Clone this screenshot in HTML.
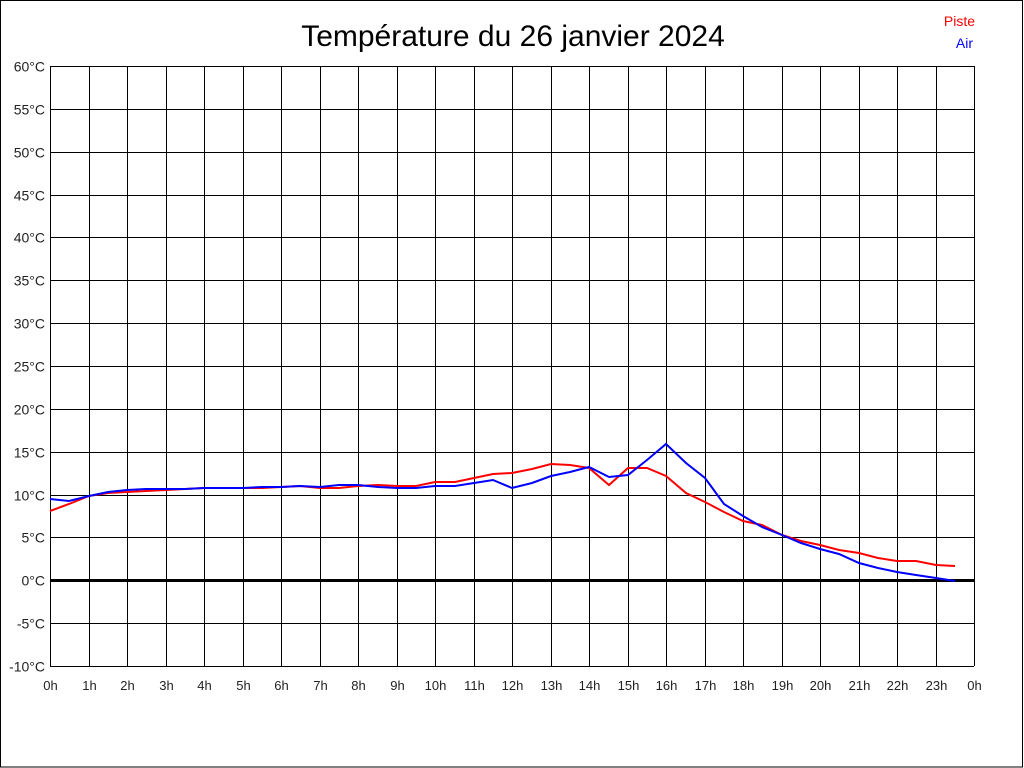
<!DOCTYPE html>
<html><head><meta charset="utf-8"><style>body{margin:0;background:#fff}svg{display:block}</style></head><body>
<svg width="1024" height="768" xmlns="http://www.w3.org/2000/svg" font-family="Liberation Sans, sans-serif">
<rect x="0.5" y="0.5" width="1022" height="766.5" fill="#fff" stroke="#000"/>
<text x="513" y="46" font-size="30" text-anchor="middle">Température du 26 janvier 2024</text>
<text x="975" y="26" font-size="14" fill="#f00" text-anchor="end">Piste</text>
<text x="973" y="48" font-size="14" fill="#00f" text-anchor="end">Air</text>
<g stroke="#000" stroke-width="1" shape-rendering="crispEdges" id="g"></g>
<g fill="#222" id="l"></g>
<polyline fill="none" stroke="#f00" stroke-width="2" points="50,511 69,504 89,496 108,493 127,492 146,491 166,490 185,489 204,488 223,488 243,488 262,488 281,487 300,486 320,488 339,488 358,486 378,485 397,486 416,486 435,482 455,482 474,478 493,474 512,473 532,469 551,464 570,465 589,468 609,485 628,468 647,468 666,476 686,493 705,502 724,512 743,521 762,525 782,535 801,541 820,545 839,550 859,553 878,558 897,561 916,561 936,565 955,566"/>
<polyline fill="none" stroke="#00f" stroke-width="2" points="50,499 69,501 89,496 108,492 127,490 146,489 166,489 185,489 204,488 223,488 243,488 262,487 281,487 300,486 320,487 339,485 358,485 378,487 397,488 416,488 435,486 455,486 474,483 493,480 512,488 532,483 551,476 570,472 589,467 609,477 628,475 647,460 666,444 686,463 705,478 724,504 743,516 762,527 782,535 801,543 820,549 839,554 859,563 878,568 897,572 916,575 936,578 955,581"/>
<script>
var g=document.getElementById('g'),l=document.getElementById('l'),ns='http://www.w3.org/2000/svg';
function ln(x1,y1,x2,y2,w){var e=document.createElementNS(ns,'line');e.setAttribute('x1',x1);e.setAttribute('y1',y1);e.setAttribute('x2',x2);e.setAttribute('y2',y2);if(w)e.setAttribute('stroke-width',w);g.appendChild(e);}
function tx(x,y,s,a,f){var e=document.createElementNS(ns,'text');e.setAttribute('x',x);e.setAttribute('y',y);e.setAttribute('text-anchor',a);e.setAttribute('font-size',f);e.textContent=s;l.appendChild(e);}
for(var i=0;i<=14;i++){var y=Math.round(66+i*600/14)+0.5;ln(50,y,974,y);tx(45,y+5,(60-5*i)+'°C','end',14);}
for(var j=0;j<=24;j++){var x=Math.round(50+j*38.5)+0.5;ln(x,66,x,666);tx(x,690,(j%24)+'h','middle',13);}
ln(50,580.5,974,580.5,3);
</script>
</svg>
</body></html>
